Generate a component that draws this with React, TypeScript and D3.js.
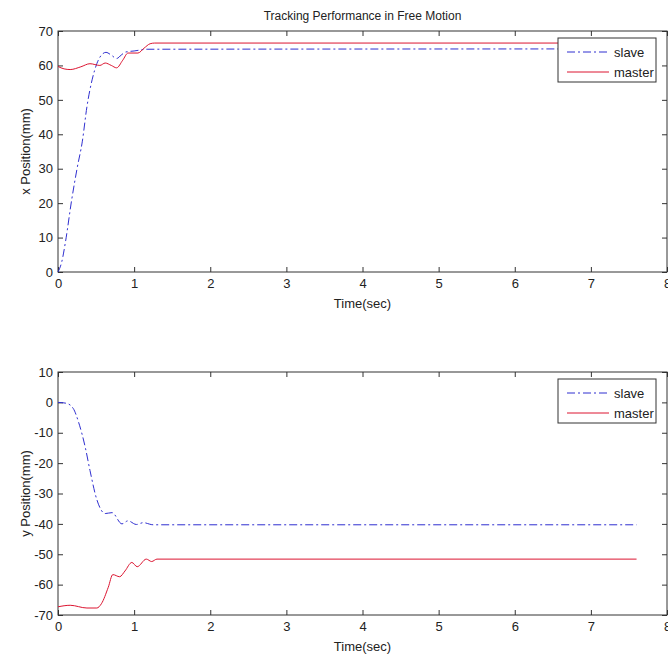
import { useRef, useEffect } from 'react';
import * as d3 from 'd3';

// top panel: x position
const xSlaveT = [0, 0.05, 0.1, 0.18, 0.25, 0.32, 0.38, 0.45, 0.51, 0.57, 0.63, 0.7, 0.77, 0.83, 0.89, 1.0, 1.17, 7.6];
const xSlaveV = [0, 3, 9, 21, 30, 38, 48, 56, 60.5, 63, 63.8, 63, 62, 63, 63.9, 64.2, 64.7, 64.8];
const xMasterT = [0, 0.08, 0.16, 0.3, 0.42, 0.55, 0.62, 0.7, 0.77, 0.85, 0.92, 1.05, 1.13, 1.21, 1.27, 7.6];
const xMasterV = [59.7, 59, 58.8, 59.6, 60.5, 60, 60.7, 60, 59.3, 61.5, 63.6, 63.6, 65, 66.3, 66.5, 66.5];

// bottom panel: y position
const ySlaveT = [0, 0.11, 0.2, 0.27, 0.36, 0.42, 0.51, 0.62, 0.71, 0.84, 0.92, 1.03, 1.12, 1.25, 7.6];
const ySlaveV = [0, -0.3, -2, -6.5, -15, -22.4, -32, -36.6, -36.3, -40, -39, -40.2, -39.6, -40.3, -40.3];
const yMasterT = [0, 0.16, 0.38, 0.51, 0.57, 0.66, 0.72, 0.81, 0.88, 0.97, 1.04, 1.16, 1.23, 1.3, 7.6];
const yMasterV = [-67.3, -66.8, -67.7, -67.7, -66.3, -60.9, -56.7, -57.4, -55.5, -52.7, -54.1, -51.6, -52.4, -51.6, -51.6];

const xTicks = [0, 1, 2, 3, 4, 5, 6, 7, 8];
const topYTicks = [0, 10, 20, 30, 40, 50, 60, 70];
const botYTicks = [-70, -60, -50, -40, -30, -20, -10, 0, 10];
const legendLabels = ['slave', 'master'];

const FONT = 'Liberation Sans, Arial, sans-serif';
const BLUE = '#2f2fd0';
const RED = '#dc1430';
const AXIS = '#333';

function App() {
  const ref = useRef(null);

  useEffect(() => {
    const svg = d3.select(ref.current);
    svg.selectAll('*').remove();
    svg.append('rect').attr('width', 668).attr('height', 654).attr('fill', '#fff');

    const left = 58, right = 667;
    const fmt = (d) => String(d); // plain hyphen minus like matlab

    const panel = (top, bottom, yDomain, yTicks, series, yLabel, title) => {
      const x = d3.scaleLinear().domain([0, 8]).range([left, right]);
      const y = d3.scaleLinear().domain(yDomain).range([bottom, top]);
      const g = svg.append('g').style('font-family', FONT);

      const styleAxis = (sel) => {
        sel.select('.domain').remove();
        sel.selectAll('line').attr('stroke', AXIS);
        sel.selectAll('text').attr('fill', '#222').style('font-size', '13px').style('font-family', FONT);
      };

      g.append('g').attr('transform', `translate(0,${bottom})`)
        .call(d3.axisBottom(x).tickValues(xTicks).tickFormat(fmt).tickSizeInner(-5).tickSizeOuter(0).tickPadding(7))
        .call(styleAxis);
      g.append('g').attr('transform', `translate(0,${top})`)
        .call(d3.axisTop(x).tickValues(xTicks).tickSizeInner(-5).tickSizeOuter(0).tickFormat(() => ''))
        .call(styleAxis);
      g.append('g').attr('transform', `translate(${left},0)`)
        .call(d3.axisLeft(y).tickValues(yTicks).tickFormat(fmt).tickSizeInner(-5).tickSizeOuter(0).tickPadding(5))
        .call(styleAxis);
      g.append('g').attr('transform', `translate(${right},0)`)
        .call(d3.axisRight(y).tickValues(yTicks).tickSizeInner(-5).tickSizeOuter(0).tickFormat(() => ''))
        .call(styleAxis);

      g.append('rect').attr('x', left).attr('y', top)
        .attr('width', right - left).attr('height', bottom - top)
        .attr('fill', 'none').attr('stroke', AXIS).attr('stroke-width', 1);

      const line = d3.line().x(d => x(d[0])).y(d => y(d[1])).curve(d3.curveMonotoneX);
      series.forEach(s => {
        g.append('path')
          .datum(s.t.map((t, i) => [t, s.v[i]]))
          .attr('fill', 'none')
          .attr('stroke', s.color)
          .attr('stroke-width', 1)
          .attr('stroke-dasharray', s.dash)
          .attr('d', line);
      });

      // legend
      const lx = 558, ly = top + 7, lw = 98, lh = 44;
      const lg = g.append('g');
      lg.append('rect').attr('x', lx).attr('y', ly).attr('width', lw).attr('height', lh)
        .attr('fill', '#fff').attr('stroke', AXIS);
      series.forEach((s, i) => {
        const yy = ly + 14 + i * 20;
        lg.append('line').attr('x1', lx + 9).attr('x2', lx + 51).attr('y1', yy).attr('y2', yy)
          .attr('stroke', s.color).attr('stroke-dasharray', s.dash);
        lg.append('text').attr('x', lx + 56).attr('y', yy).attr('dy', '0.35em')
          .style('font-size', '13px').attr('fill', '#222').text(legendLabels[i]);
      });

      g.append('text')
        .attr('x', (left + right) / 2).attr('y', bottom + 36)
        .attr('text-anchor', 'middle').style('font-size', '13px').attr('fill', '#222')
        .text('Time(sec)');
      g.append('text')
        .attr('transform', `translate(30,${(top + bottom) / 2}) rotate(-90)`)
        .attr('text-anchor', 'middle').style('font-size', '13px').attr('fill', '#222')
        .text(yLabel);
      if (title) {
        g.append('text')
          .attr('x', (left + right) / 2).attr('y', top - 11)
          .attr('text-anchor', 'middle').style('font-size', '12px').attr('fill', '#222')
          .text(title);
      }
    };

    panel(31, 272, [0, 70], topYTicks, [
      { t: xSlaveT, v: xSlaveV, color: BLUE, dash: '8,3,2,3' },
      { t: xMasterT, v: xMasterV, color: RED, dash: null },
    ], 'x Position(mm)', 'Tracking Performance in Free Motion');

    panel(372, 615, [-70, 10], botYTicks, [
      { t: ySlaveT, v: ySlaveV, color: BLUE, dash: '8,3,2,3' },
      { t: yMasterT, v: yMasterV, color: RED, dash: null },
    ], 'y Position(mm)', null);
  }, []);

  return (
    <svg ref={ref} width={668} height={654} style={{ position: 'absolute', left: 0, top: 0 }}></svg>
  );
}

export default App;
